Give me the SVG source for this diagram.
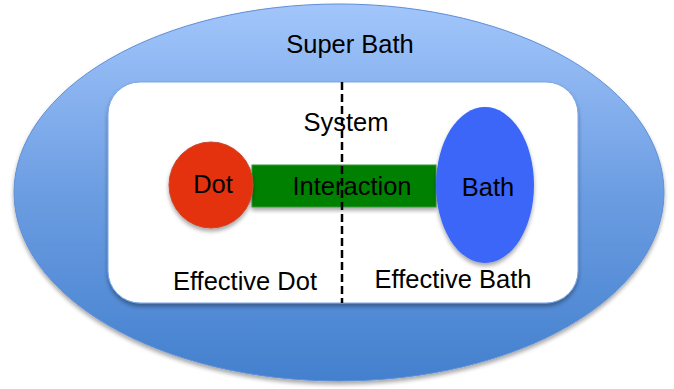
<svg xmlns="http://www.w3.org/2000/svg" width="674" height="389" viewBox="0 0 674 389">
<style>
  text { font-family: "Liberation Sans", Arial, sans-serif; fill: #000; text-anchor: middle; }
  .big { font-size: 25.5px; }
</style>
<defs>
  <linearGradient id="sb" x1="0" y1="0" x2="0" y2="1">
    <stop offset="0" stop-color="#a2c6fb"/>
    <stop offset="0.5" stop-color="#6c9de2"/>
    <stop offset="1" stop-color="#4380ce"/>
  </linearGradient>
  <filter id="sh" x="-10%" y="-10%" width="120%" height="125%">
    <feGaussianBlur in="SourceAlpha" stdDeviation="2"/>
    <feOffset dx="0" dy="3" result="b"/>
    <feComponentTransfer><feFuncA type="linear" slope="0.35"/></feComponentTransfer>
    <feMerge><feMergeNode/><feMergeNode in="SourceGraphic"/></feMerge>
  </filter>
</defs>
<g id="superbath">
  <ellipse cx="339" cy="192.5" rx="325" ry="188.5" fill="url(#sb)" stroke="#5f8fd6" stroke-width="1" filter="url(#sh)"/>
  <text class="big" x="350" y="53">Super Bath</text>
</g>
<g id="system">
  <rect x="108" y="82" width="470" height="221" rx="32" fill="#ffffff" stroke="#7aa5e6" stroke-width="1" filter="url(#sh)"/>
  <text class="big" x="346" y="131">System</text>
</g>
<g id="interaction">
  <rect x="252" y="165" width="184" height="42" fill="#008000" stroke="#3a9a3a" stroke-width="1" filter="url(#sh)"/>
  <text class="big" x="352" y="195">Interaction</text>
</g>
<g id="dot">
  <ellipse cx="211" cy="185" rx="42" ry="43" fill="#e3300f" stroke="#c9482e" stroke-width="1" filter="url(#sh)"/>
  <text class="big" x="213" y="193">Dot</text>
</g>
<g id="bath">
  <ellipse cx="485" cy="185" rx="49" ry="78" fill="#3a66f8" filter="url(#sh)"/>
  <text class="big" x="488" y="196">Bath</text>
</g>
<g id="connectors">
  <line x1="342" y1="82" x2="342" y2="303" stroke="#000" stroke-width="2.5" stroke-dasharray="8,4"/>
</g>
<g id="labels">
  <text class="big" x="245" y="290">Effective Dot</text>
  <text class="big" x="453" y="288">Effective Bath</text>
</g>
</svg>
